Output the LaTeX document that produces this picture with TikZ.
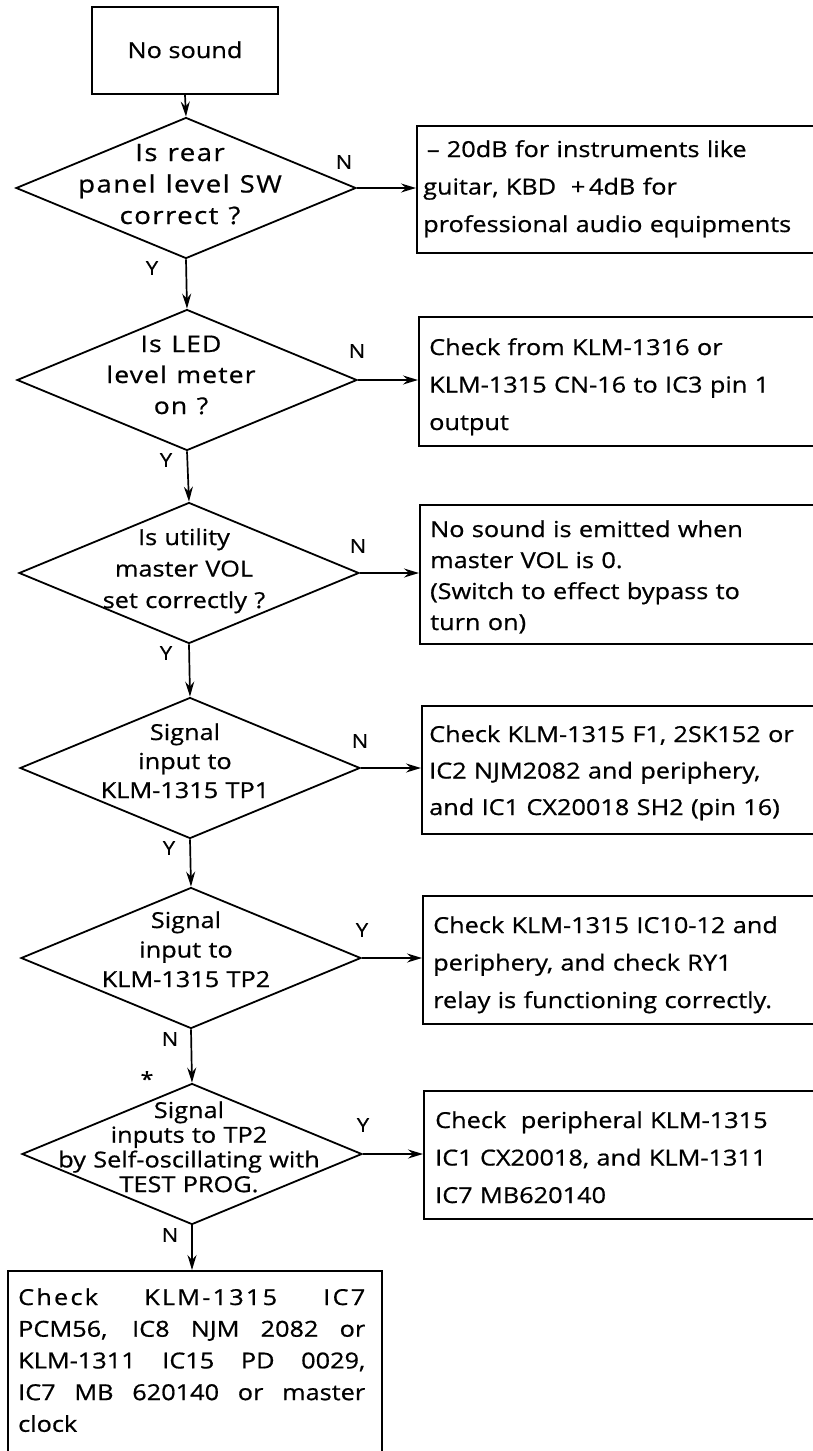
\documentclass[tikz,border=0pt]{standalone}
\usepackage{fontspec}
\setmainfont{Open Sans}[FakeStretch=1.15,FakeBold=0.7]
\usetikzlibrary{shapes.geometric,arrows.meta}
\newcommand{\wsp}{\hspace{0.42em}}
\begin{document}
\begin{tikzpicture}[x=1pt,y=-1pt,
  shp/.style={draw,line width=1.8pt},
  rbox/.style={shp,rectangle,inner sep=0pt,anchor=north west},
  dia/.style={shp,diamond,inner sep=0pt,minimum width=340pt,minimum height=141pt},
  dtxt/.style={inner sep=0pt,anchor=base,text width=340pt,align=center},
  btxt/.style={inner sep=0pt,anchor=base west,text width=375pt,align=left},
  lab/.style={inner sep=0pt,font=\fontsize{19}{19}\selectfont},
  arr/.style={line width=1.7pt,-{Stealth[length=15pt,width=9pt,inset=5pt]}},
  every node/.append style={font=\fontsize{22}{37.5}\selectfont}]
\useasboundingbox (0,0) rectangle (812,1451);
\fill[white] (0,0) rectangle (812,1451);

% start
\node[shp,rectangle,minimum width=186pt,minimum height=87pt,inner sep=0pt] (start) at (185,50.5) {};
\node[inner sep=0pt,anchor=base] (startt) at (185,58) {No sound};

% diamonds
\node[dia] (d1) at (186,188) {};
\node[dia] (d2) at (187,380) {};
\node[dia] (d3) at (189,573) {};
\node[dia] (d4) at (190,768) {};
\node[dia] (d5) at (191,958) {};
\node[dia] (d6) at (192,1154) {};

\node[dtxt,font=\fontsize{24}{31.5}\selectfont\addfontfeatures{LetterSpace=6}] (d1t) at (180,161) {Is\wsp rear\\panel\wsp level\wsp SW\\correct\wsp ?};
\node[dtxt,font=\fontsize{23}{31}\selectfont\addfontfeatures{LetterSpace=5}] (d2t) at (181,352) {Is\wsp LED\\level\wsp meter\\on\wsp ?};
\node[dtxt,font=\fontsize{22}{31.5}\selectfont] (d3t) at (184,545) {Is utility\\master VOL\\set correctly ?};
\node[dtxt,font=\fontsize{22}{29}\selectfont] (d4t) at (185,740) {Signal\\input to\\KLM-1315 TP1};
\node[dtxt,font=\fontsize{22}{29.5}\selectfont] (d5t) at (186,928) {Signal\\input to\\KLM-1315 TP2};
\node[dtxt,font=\fontsize{22}{24.7}\selectfont] (d6t) at (189,1118) {Signal\\inputs to TP2\\by Self-oscillating with\\TEST PROG.};

% right boxes
\node[rbox,minimum width=397pt,minimum height=127pt] (b1) at (416,125) {};
\node[rbox,minimum width=395pt,minimum height=129pt] (b2) at (418,316) {};
\node[rbox,minimum width=394pt,minimum height=139pt] (b3) at (419,504) {};
\node[rbox,minimum width=392pt,minimum height=128pt] (b4) at (421,705) {};
\node[rbox,minimum width=391pt,minimum height=128pt] (b5) at (422,895) {};
\node[rbox,minimum width=390pt,minimum height=128pt] (b6) at (423,1090) {};

\node[btxt] (b1t) at (423,157) {\,– 20dB for instruments like\\guitar, KBD\ \ +\,4dB for\\professional audio equipments};
\node[btxt] (b2t) at (429,355) {Check from KLM-1316 or\\KLM-1315 CN-16 to IC3 pin 1\\output};
\node[btxt,font=\fontsize{22}{31}\selectfont] (b3t) at (430,537) {No sound is emitted when\\master VOL is 0.\\(Switch to effect bypass to\\turn on)};
\node[btxt,font=\fontsize{22}{36.5}\selectfont] (b4t) at (429,742) {Check KLM-1315 F1, 2SK152 or\\IC2 NJM2082 and periphery,\\and IC1 CX20018 SH2 (pin 16)};
\node[btxt] (b5t) at (433,933) {Check KLM-1315 IC10-12 and\\periphery, and check RY1\\relay is functioning correctly.};
\node[btxt] (b6t) at (435,1128) {Check\ \ peripheral KLM-1315\\IC1 CX20018, and KLM-1311\\IC7 MB620140};

% final box
\node[rbox,minimum width=374pt,minimum height=183pt] (fin) at (7,1270) {};
\node[inner sep=0pt,anchor=base west,text width=347pt,align=justify,font=\fontsize{22}{31.7}\selectfont] (fint) at (18,1305)
  {{\addfontfeatures{LetterSpace=10}Check KLM-1315 IC7}\linebreak PCM56, IC8 NJM 2082 or\linebreak KLM-1311 IC15 PD 0029,\linebreak IC7 MB 620140 or master\linebreak clock};

% connectors
\draw[arr] (start.south) -- (d1.north);
\draw[arr] (d1.south) -- (d2.north);
\draw[arr] (d2.south) -- (d3.north);
\draw[arr] (d3.south) -- (d4.north);
\draw[arr] (d4.south) -- (d5.north);
\draw[arr] (d5.south) -- (d6.north);
\draw[arr] (d6.south) -- (d6.south |- fin.north);
\draw[arr] (d1.east) -- (d1.east -| b1.west);
\draw[arr] (d2.east) -- (d2.east -| b2.west);
\draw[arr] (d3.east) -- (d3.east -| b3.west);
\draw[arr] (d4.east) -- (d4.east -| b4.west);
\draw[arr] (d5.east) -- (d5.east -| b5.west);
\draw[arr] (d6.east) -- (d6.east -| b6.west);

% labels
\node[lab] (l1n) at (344,162) {N};
\node[lab] (l1y) at (152,268) {Y};
\node[lab] (l2n) at (357,351) {N};
\node[lab] (l2y) at (166,460) {Y};
\node[lab] (l3n) at (358,546) {N};
\node[lab] (l3y) at (166,653) {Y};
\node[lab] (l4n) at (360,741) {N};
\node[lab] (l4y) at (169,848) {Y};
\node[lab] (l5y) at (362,930) {Y};
\node[lab] (l5n) at (170,1039) {N};
\node[lab,font=\fontsize{20}{20}\selectfont,anchor=north] (star) at (147,1071) {*};
\node[lab] (l6y) at (363,1125) {Y};
\node[lab] (l6n) at (170,1235) {N};
\end{tikzpicture}
\end{document}
